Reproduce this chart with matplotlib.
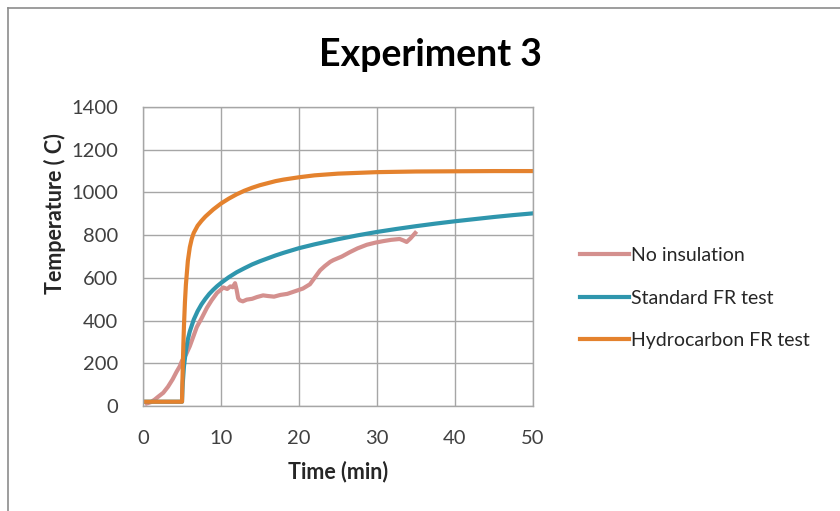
import matplotlib
matplotlib.use("Agg")
import matplotlib.pyplot as plt
from matplotlib.lines import Line2D

plt.rcParams['font.family'] = ['Lato', 'DejaVu Sans']

# Data
no_ins_t = [0.5, 1, 1.5, 2, 2.6, 3.2, 3.8, 4.3, 4.7, 5.0, 5.5, 6.0, 6.5, 6.9, 7.5, 8.2, 8.8,
            9.5, 10.0, 10.3, 10.8, 11.2, 11.5, 11.8, 12.0, 12.2, 12.4, 12.8, 13.3, 14.0, 14.6,
            15.4, 16.0, 16.8, 17.6, 18.5, 19.7, 20.5, 21.4, 22.0, 22.7, 23.3, 24.0, 24.4, 25.5,
            26.5, 27.5, 28.7, 29.8, 30.8, 31.8, 32.9, 33.4, 33.8, 34.3, 34.9]
no_ins_T = [12, 18, 30, 45, 62, 90, 125, 160, 185, 212, 240, 280, 330, 370, 410, 460, 495,
            530, 545, 555, 548, 560, 556, 575, 545, 505, 495, 490, 498, 502, 510,
            518, 515, 512, 520, 525, 540, 550, 570, 600, 635, 655, 675, 683, 700,
            720, 738, 755, 765, 772, 778, 782, 775, 768, 785, 810]

std_t = [0, 5, 5.05, 5.1, 5.25, 5.5, 5.75, 6, 6.5, 7, 7.5, 8, 8.5, 9, 9.5, 10, 11, 12, 13, 14,
         15, 17, 18, 20, 22, 25, 27.5, 30, 32.5, 35, 37.5, 40, 42.5, 45, 47.5, 50]
std_T = [20, 20, 70, 108, 185, 261, 312, 349, 404, 444, 476, 502, 525, 544, 561, 576, 603, 626,
         645, 663, 678, 705, 717, 739, 757, 781, 799, 815, 829, 842, 854, 865, 875, 885, 894, 902]

hc_t = [0, 5, 5.0, 5.05, 5.1, 5.175, 5.25, 5.375, 5.5, 5.75, 6, 6.25, 6.5, 7, 7.5, 8, 9, 10,
        11, 12, 13, 14, 15, 17, 18, 20, 22, 25, 30, 35, 40, 45, 50]
hc_T = [20, 20, 20, 109, 187, 288, 373, 485, 568, 679, 743, 783, 810, 844, 867, 887, 920, 948,
        971, 991, 1008, 1022, 1034, 1053, 1060, 1071, 1080, 1088, 1095, 1098, 1099, 1100, 1100]

labels = ["No insulation", "Standard FR test", "Hydrocarbon FR test"]
colors = ["#d4908e", "#2f96ad", "#e4822e"]
x_ticks = [0, 10, 20, 30, 40, 50]
y_ticks = [0, 200, 400, 600, 800, 1000, 1200, 1400]

fig = plt.figure(figsize=(8.4, 5.11), dpi=100)
ax = fig.add_axes([143/840, 1-406/511, (533-143)/840, (406-107)/511])

ax.plot(no_ins_t, no_ins_T, color=colors[0], lw=3.0, label=labels[0])
ax.plot(std_t, std_T, color=colors[1], lw=3.0, label=labels[1])
ax.plot(hc_t, hc_T, color=colors[2], lw=3.0, label=labels[2])

ax.set_xlim(0, 50)
ax.set_ylim(0, 1400)
ax.set_xticks(x_ticks)
ax.set_yticks(y_ticks)
ax.grid(True, color="#a6a6a6", lw=1.0)
ax.set_axisbelow(True)
for s in ax.spines.values():
    s.set_color("#a6a6a6")
    s.set_linewidth(1.0)
ax.tick_params(length=0, labelsize=14.5, colors="#404040")
ax.tick_params(axis='y', pad=18)
ax.tick_params(axis='x', pad=17)

ax.set_xlabel("Time (min)", fontsize=15.5, fontweight='bold', color="#262626")
ax.set_ylabel("Temperature ( C)", fontsize=15.5, fontweight='bold', color="#262626")
ax.xaxis.set_label_coords(0.5, (406-472)/299)
ax.yaxis.set_label_coords((55-143)/390, (406-214)/299)
ax.xaxis.label.set_va('center')
ax.yaxis.label.set_va('center')

fig.text(430/840, 1-55/511, "Experiment 3", fontsize=27, fontweight='bold',
         ha='center', va='center', color="#000000")

leg = ax.legend(loc='center left', bbox_to_anchor=(562/840, 1-298/511),
                bbox_transform=fig.transFigure, frameon=False, fontsize=14,
                handlelength=2.55, handletextpad=0.1, labelspacing=1.32)
for t in leg.get_texts():
    t.set_color("#262626")

# outer chart frame
fig.add_artist(Line2D([8/840, 8/840], [0, 1-8/511], transform=fig.transFigure,
                      color="#8c8c8c", lw=1.2))
fig.add_artist(Line2D([8/840, 1], [1-8/511, 1-8/511], transform=fig.transFigure,
                      color="#8c8c8c", lw=1.2))

fig.savefig("out.png", dpi=100)
